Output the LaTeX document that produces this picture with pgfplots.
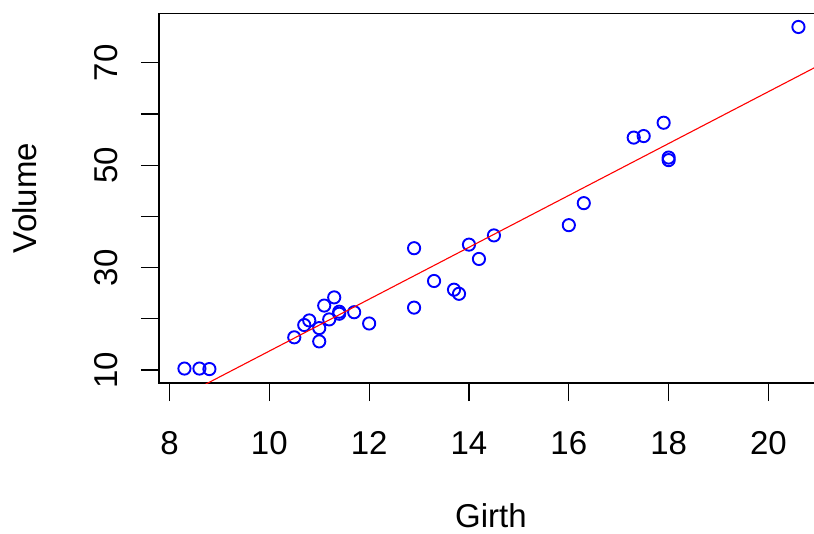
\documentclass[border=0pt]{standalone}
\usepackage{pgfplots}
\pgfplotsset{compat=1.18}
\usepackage{fontspec}
\setmainfont{Liberation Sans}
\definecolor{rblue}{RGB}{0,0,255}
\definecolor{rred}{RGB}{255,0,0}
\begin{document}
\begin{tikzpicture}
\begin{axis}[
    scale only axis,
    width=664pt, height=369.7pt,
    xmin=7.79, xmax=21.092,
    ymin=7.48, ymax=79.67,
    xtick={8,10,...,20},
    ytick={10,20,...,70},
    yticklabels={10,,30,,50,,70},
    xtick pos=bottom, ytick pos=left,
    xtick align=outside, ytick align=outside,
    major tick length=18pt,
    major tick style={black, line width=1.2pt},
    axis line style={black, line width=1.2pt},
    tick label style={font=\fontsize{33}{40}\selectfont, /pgf/number format/assume math mode=true},
    xticklabel style={anchor=base, yshift=-53pt},
    yticklabel style={xshift=-23pt, rotate=90, anchor=base},
    xlabel={Girth}, ylabel={Volume},
    every axis x label/.style={at={(axis description cs:0.5,0)}, yshift=-144pt, anchor=base, inner sep=0pt, font=\fontsize{33}{40}\selectfont},
    every axis y label/.style={at={(axis description cs:0,0.5)}, xshift=-122pt, rotate=90, anchor=base, inner sep=0pt, font=\fontsize{33}{40}\selectfont},
    clip mode=individual,
]
\addplot[only marks, mark=o, mark size=6.1pt, rblue, mark options={line width=1.9pt}] coordinates {
(8.3,10.3) (8.6,10.3) (8.8,10.2) (10.5,16.4) (10.7,18.8) (10.8,19.7)
(11.0,15.6) (11.0,18.2) (11.1,22.6) (11.2,19.9) (11.3,24.2) (11.4,21.0)
(11.4,21.4) (11.7,21.3) (12.0,19.1) (12.9,22.2) (12.9,33.8) (13.3,27.4)
(13.7,25.7) (13.8,24.9) (14.0,34.5) (14.2,31.7) (14.5,36.3) (16.0,38.3)
(16.3,42.6) (17.3,55.4) (17.5,55.7) (17.9,58.3) (18.0,51.5) (18.0,51.0)
(20.6,77.0)
};
\addplot[rred, line width=1.1pt] coordinates {(8.6,6.62) (21.1,69.95)};
\end{axis}
\pgfresetboundingbox
\useasboundingbox (-159pt,-150pt) rectangle (655pt,383pt);
\end{tikzpicture}
\end{document}
